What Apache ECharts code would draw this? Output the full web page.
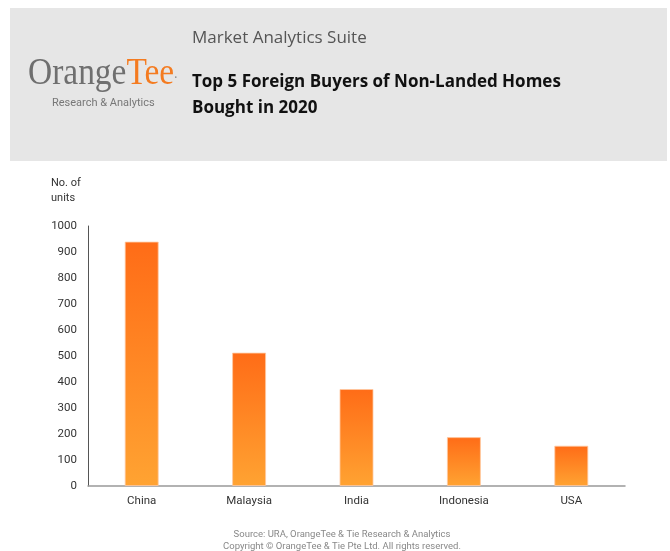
<!DOCTYPE html>
<html>
<head>
<meta charset="utf-8">
<script src="https://cdn.jsdelivr.net/npm/echarts@6/dist/echarts.min.js"></script>
<style>
  html, body { margin: 0; padding: 0; background: #fff; }
  #main { width: 670px; height: 551px; }
</style>
</head>
<body>
<div id="main"></div>
<script>
// data
var countries = ['China', 'Malaysia', 'India', 'Indonesia', 'USA'];
var units = [940, 513, 373, 188, 155];
var yTicks = [0, 100, 200, 300, 400, 500, 600, 700, 800, 900, 1000];

var myChart = echarts.init(document.getElementById('main'));

myChart.setOption({
  animation: false,
  backgroundColor: '#ffffff',
  grid: {
    left: 88,
    right: 45,
    top: 226,
    bottom: 65
  },
  graphic: [
    // header panel
    {
      type: 'rect',
      shape: { x: 10, y: 8, width: 657, height: 153 },
      style: { fill: '#e6e6e6' },
      z: 0
    },
    // logo, squeezed a bit to get the narrow serif look
    {
      type: 'text',
      x: 28, y: 55,
      scaleX: 0.88,
      style: {
        text: '{a|Orange}{b|Tee}{c|.}',
        rich: {
          a: { fontFamily: 'Liberation Serif', fontSize: 38, fill: '#6f6f6f' },
          b: { fontFamily: 'Liberation Serif', fontSize: 38, fill: '#f47b20' },
          c: { fontFamily: 'Liberation Serif', fontSize: 14, fill: '#888888' }
        }
      }
    },
    {
      type: 'text',
      x: 52, y: 98,
      style: { text: 'Research & Analytics', font: '11px Roboto', fill: '#777777' }
    },
    {
      type: 'text',
      x: 192, y: 30,
      style: { text: 'Market Analytics Suite', font: '17px "Open Sans"', fill: '#555555' }
    },
    {
      type: 'text',
      x: 192, y: 69,
      style: {
        text: 'Top 5 Foreign Buyers of Non-Landed Homes\nBought in 2020',
        font: 'bold 17px "Open Sans"',
        lineHeight: 26,
        fill: '#111111'
      }
    },
    // footer
    {
      type: 'text',
      x: 342, y: 541,
      style: {
        text: 'Source: URA, OrangeTee & Tie Research & Analytics\nCopyright \u00a9 OrangeTee & Tie Pte Ltd. All rights reserved.',
        font: '9.5px Roboto',
        lineHeight: 12,
        fill: '#888888',
        align: 'center',
        verticalAlign: 'middle'
      }
    }
  ],
  xAxis: {
    type: 'category',
    data: countries,
    axisTick: { show: false },
    axisLine: { lineStyle: { color: '#999999', width: 1.5 } },
    axisLabel: {
      color: '#333333',
      fontFamily: 'Roboto',
      fontSize: 11.5,
      margin: 9
    }
  },
  yAxis: {
    type: 'value',
    min: yTicks[0],
    max: yTicks[yTicks.length - 1],
    interval: 100,
    name: 'No. of\nunits',
    nameLocation: 'end',
    nameGap: 20,
    nameTextStyle: {
      color: '#333333',
      fontFamily: 'Roboto',
      fontSize: 11,
      align: 'left',
      lineHeight: 15,
      padding: [0, 0, 0, -37]
    },
    axisLine: { show: true, lineStyle: { color: '#555555', width: 1 } },
    axisTick: { show: false },
    splitLine: { show: false },
    axisLabel: {
      color: '#333333',
      fontFamily: 'Roboto',
      fontSize: 11.5,
      margin: 11,
      formatter: function (value) {
        return String(value);
      }
    }
  },
  series: [
    {
      type: 'bar',
      data: units,
      barWidth: 34,
      itemStyle: {
        color: new echarts.graphic.LinearGradient(0, 0, 0, 1, [
          { offset: 0, color: '#ff6c17' },
          { offset: 1, color: '#ffa332' }
        ]),
        borderColor: 'rgba(255,200,160,0.8)',
        borderWidth: 1
      }
    }
  ]
});
</script>
</body>
</html>
